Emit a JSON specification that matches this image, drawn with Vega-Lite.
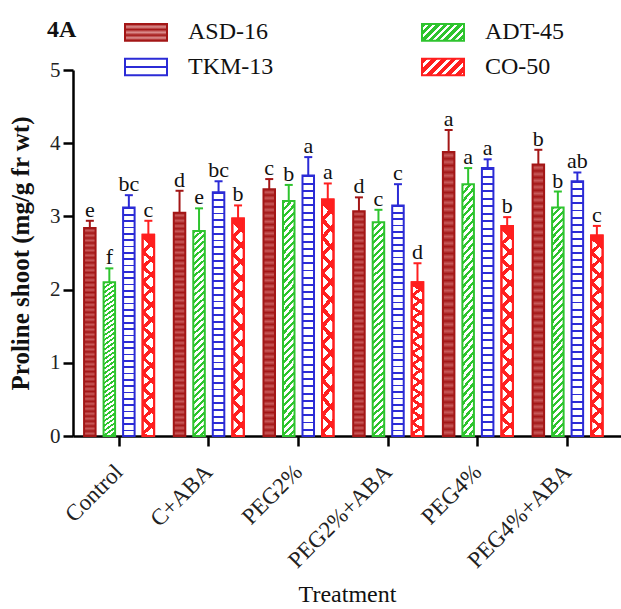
{
  "$schema": "https://vega.github.io/schema/vega-lite/v6.json",
  "width": 548,
  "height": 366,
  "autosize": "none",
  "padding": {"left": 73, "top": 70, "right": 0, "bottom": 173},
  "title": {"text": "4A", "anchor": "start", "frame": "group", "dx": -26, "offset": -32, "fontSize": 24, "fontWeight": "bold", "font": "Liberation Serif", "color": "#111"},
  "data": {"values": [
    {"t":"Control","v":"ASD-16","value":2.84,"upper":2.94,"sig":"e"},
    {"t":"Control","v":"ADT-45","value":2.10,"upper":2.29,"sig":"f"},
    {"t":"Control","v":"TKM-13","value":3.12,"upper":3.29,"sig":"bc"},
    {"t":"Control","v":"CO-50","value":2.75,"upper":2.94,"sig":"c"},
    {"t":"C+ABA","v":"ASD-16","value":3.05,"upper":3.35,"sig":"d"},
    {"t":"C+ABA","v":"ADT-45","value":2.80,"upper":3.11,"sig":"e"},
    {"t":"C+ABA","v":"TKM-13","value":3.33,"upper":3.48,"sig":"bc"},
    {"t":"C+ABA","v":"CO-50","value":2.97,"upper":3.15,"sig":"b"},
    {"t":"PEG2%","v":"ASD-16","value":3.37,"upper":3.51,"sig":"c"},
    {"t":"PEG2%","v":"ADT-45","value":3.21,"upper":3.43,"sig":"b"},
    {"t":"PEG2%","v":"TKM-13","value":3.56,"upper":3.81,"sig":"a"},
    {"t":"PEG2%","v":"CO-50","value":3.23,"upper":3.45,"sig":"a"},
    {"t":"PEG2%+ABA","v":"ASD-16","value":3.07,"upper":3.26,"sig":"d"},
    {"t":"PEG2%+ABA","v":"ADT-45","value":2.92,"upper":3.09,"sig":"c"},
    {"t":"PEG2%+ABA","v":"TKM-13","value":3.15,"upper":3.44,"sig":"c"},
    {"t":"PEG2%+ABA","v":"CO-50","value":2.10,"upper":2.36,"sig":"d"},
    {"t":"PEG4%","v":"ASD-16","value":3.88,"upper":4.18,"sig":"a"},
    {"t":"PEG4%","v":"ADT-45","value":3.44,"upper":3.66,"sig":"a"},
    {"t":"PEG4%","v":"TKM-13","value":3.66,"upper":3.78,"sig":"a"},
    {"t":"PEG4%","v":"CO-50","value":2.87,"upper":2.99,"sig":"b"},
    {"t":"PEG4%+ABA","v":"ASD-16","value":3.71,"upper":3.91,"sig":"b"},
    {"t":"PEG4%+ABA","v":"ADT-45","value":3.12,"upper":3.34,"sig":"b"},
    {"t":"PEG4%+ABA","v":"TKM-13","value":3.48,"upper":3.60,"sig":"ab"},
    {"t":"PEG4%+ABA","v":"CO-50","value":2.74,"upper":2.87,"sig":"c"}
  ]},
  "encoding": {
    "x": {"field": "t", "type": "nominal", "sort": null,
      "scale": {"domain": ["Control","C+ABA","PEG2%","PEG2%+ABA","PEG4%","PEG4%+ABA"], "paddingInner": 0.13, "paddingOuter": 0.1195, "align": 0.33},
      "axis": {"title": "Treatment", "titleFontSize": 24, "titleFontWeight": "normal", "labelFontSize": 23, "labelAngle": -45, "tickSize": 10, "labelPadding": 22, "titlePadding": 10, "labelAlign": "right", "labelBaseline": "middle"}},
    "xOffset": {"field": "v", "type": "nominal", "scale": {"domain": ["ASD-16","ADT-45","TKM-13","CO-50"], "paddingInner": 0.41, "paddingOuter": 0.205}},
    "y": {"field": "value", "type": "quantitative", "scale": {"domain": [0, 5], "nice": false},
      "axis": {"values": [0,1,2,3,4,5], "tickSize": 10, "labelPadding": 3, "title": "Proline shoot (mg/g fr wt)", "titleFontWeight": "bold", "titleFontSize": 25, "titlePadding": 16}}
  },
  "layer": [
    {
      "mark": {"type": "bar", "opacity": 0},
      "encoding": {
        "fill": {"field": "v", "type": "nominal",
          "scale": {"domain": ["ASD-16","TKM-13","ADT-45","CO-50"], "range": [
            {"expr": "{gradient:'linear',x1:0,y1:0,x2:0,y2:1,stops:[{offset:0,color:'#a31616'},{offset:0.17,color:'#dc9090'},{offset:0.33,color:'#a31616'},{offset:0.5,color:'#dc9090'},{offset:0.67,color:'#a31616'},{offset:0.83,color:'#dc9090'},{offset:1,color:'#a31616'}]}"},
            {"expr": "{gradient:'linear',x1:0,y1:0,x2:0,y2:1,stops:[{offset:0,color:'#ffffff'},{offset:0.42,color:'#ffffff'},{offset:0.42,color:'#2b2bd6'},{offset:0.58,color:'#2b2bd6'},{offset:0.58,color:'#ffffff'},{offset:1,color:'#ffffff'}]}"},
            {"expr": "{gradient:'linear',x1:0,y1:0,x2:1.21,y2:0.48,stops:[{offset:0,color:'#2ec42e'},{offset:0.075,color:'#2ec42e'},{offset:0.075,color:'#ffffff'},{offset:0.125,color:'#ffffff'},{offset:0.125,color:'#2ec42e'},{offset:0.2,color:'#2ec42e'},{offset:0.2,color:'#ffffff'},{offset:0.25,color:'#ffffff'},{offset:0.25,color:'#2ec42e'},{offset:0.325,color:'#2ec42e'},{offset:0.325,color:'#ffffff'},{offset:0.375,color:'#ffffff'},{offset:0.375,color:'#2ec42e'},{offset:0.45,color:'#2ec42e'},{offset:0.45,color:'#ffffff'},{offset:0.5,color:'#ffffff'},{offset:0.5,color:'#2ec42e'},{offset:0.575,color:'#2ec42e'},{offset:0.575,color:'#ffffff'},{offset:0.625,color:'#ffffff'},{offset:0.625,color:'#2ec42e'},{offset:0.7,color:'#2ec42e'},{offset:0.7,color:'#ffffff'},{offset:0.75,color:'#ffffff'},{offset:0.75,color:'#2ec42e'},{offset:0.825,color:'#2ec42e'},{offset:0.825,color:'#ffffff'},{offset:0.875,color:'#ffffff'},{offset:0.875,color:'#2ec42e'},{offset:0.95,color:'#2ec42e'},{offset:0.95,color:'#ffffff'},{offset:1,color:'#ffffff'}]}"},
            {"expr": "{gradient:'linear',x1:0,y1:0,x2:1.21,y2:0.48,stops:[{offset:0,color:'#ff1f1f'},{offset:0.1,color:'#ff1f1f'},{offset:0.1,color:'#ffffff'},{offset:0.167,color:'#ffffff'},{offset:0.167,color:'#ff1f1f'},{offset:0.267,color:'#ff1f1f'},{offset:0.267,color:'#ffffff'},{offset:0.333,color:'#ffffff'},{offset:0.333,color:'#ff1f1f'},{offset:0.433,color:'#ff1f1f'},{offset:0.433,color:'#ffffff'},{offset:0.5,color:'#ffffff'},{offset:0.5,color:'#ff1f1f'},{offset:0.6,color:'#ff1f1f'},{offset:0.6,color:'#ffffff'},{offset:0.667,color:'#ffffff'},{offset:0.667,color:'#ff1f1f'},{offset:0.767,color:'#ff1f1f'},{offset:0.767,color:'#ffffff'},{offset:0.833,color:'#ffffff'},{offset:0.833,color:'#ff1f1f'},{offset:0.933,color:'#ff1f1f'},{offset:0.933,color:'#ffffff'},{offset:1,color:'#ffffff'}]}"}
          ]},
          "legend": {"title": null, "orient": "none", "legendX": 51, "legendY": -60, "columns": 2, "columnPadding": 144, "rowPadding": -2, "symbolType": "M-1,-0.395H1V0.395H-1Z", "symbolSize": 1764, "symbolStrokeWidth": 2, "symbolOpacity": 1, "labelFont": "Liberation Serif", "labelFontSize": 24, "labelColor": "#111", "labelOffset": 20, "labelLimit": 200}},
        "stroke": {"field": "v", "type": "nominal", "scale": {"domain": ["ASD-16","TKM-13","ADT-45","CO-50"], "range": ["#a31616","#2b2bd6","#2ec42e","#ff1f1f"]},
          "legend": {"title": null, "orient": "none", "legendX": 51, "legendY": -60, "columns": 2, "columnPadding": 144, "rowPadding": -2, "symbolType": "M-1,-0.395H1V0.395H-1Z", "symbolSize": 1764, "symbolStrokeWidth": 2, "symbolOpacity": 1, "labelFont": "Liberation Serif", "labelFontSize": 24, "labelColor": "#111", "labelOffset": 20, "labelLimit": 200}}
      }
    },
    {
      "transform": [{"filter": "datum.v === 'ASD-16'"}],
      "mark": {"type": "bar", "strokeWidth": 2, "fill": {"gradient": "linear", "x1": 0, "y1": 0, "x2": 0, "y2": 1, "stops": [
        {"offset":0,"color":"#a31616"},{"offset":0.0119,"color":"#c85a5a"},{"offset":0.0238,"color":"#a31616"},{"offset":0.0357,"color":"#c85a5a"},{"offset":0.0476,"color":"#a31616"},{"offset":0.0595,"color":"#c85a5a"},{"offset":0.0714,"color":"#a31616"},{"offset":0.0833,"color":"#c85a5a"},{"offset":0.0952,"color":"#a31616"},{"offset":0.1071,"color":"#c85a5a"},{"offset":0.119,"color":"#a31616"},{"offset":0.131,"color":"#c85a5a"},{"offset":0.1429,"color":"#a31616"},{"offset":0.1548,"color":"#c85a5a"},{"offset":0.1667,"color":"#a31616"},{"offset":0.1786,"color":"#c85a5a"},{"offset":0.1905,"color":"#a31616"},{"offset":0.2024,"color":"#c85a5a"},{"offset":0.2143,"color":"#a31616"},{"offset":0.2262,"color":"#c85a5a"},{"offset":0.2381,"color":"#a31616"},{"offset":0.25,"color":"#c85a5a"},{"offset":0.2619,"color":"#a31616"},{"offset":0.2738,"color":"#c85a5a"},{"offset":0.2857,"color":"#a31616"},{"offset":0.2976,"color":"#c85a5a"},{"offset":0.3095,"color":"#a31616"},{"offset":0.3214,"color":"#c85a5a"},{"offset":0.3333,"color":"#a31616"},{"offset":0.3452,"color":"#c85a5a"},{"offset":0.3571,"color":"#a31616"},{"offset":0.369,"color":"#c85a5a"},{"offset":0.381,"color":"#a31616"},{"offset":0.3929,"color":"#c85a5a"},{"offset":0.4048,"color":"#a31616"},{"offset":0.4167,"color":"#c85a5a"},{"offset":0.4286,"color":"#a31616"},{"offset":0.4405,"color":"#c85a5a"},{"offset":0.4524,"color":"#a31616"},{"offset":0.4643,"color":"#c85a5a"},{"offset":0.4762,"color":"#a31616"},{"offset":0.4881,"color":"#c85a5a"},{"offset":0.5,"color":"#a31616"},{"offset":0.5119,"color":"#c85a5a"},{"offset":0.5238,"color":"#a31616"},{"offset":0.5357,"color":"#c85a5a"},{"offset":0.5476,"color":"#a31616"},{"offset":0.5595,"color":"#c85a5a"},{"offset":0.5714,"color":"#a31616"},{"offset":0.5833,"color":"#c85a5a"},{"offset":0.5952,"color":"#a31616"},{"offset":0.6071,"color":"#c85a5a"},{"offset":0.619,"color":"#a31616"},{"offset":0.631,"color":"#c85a5a"},{"offset":0.6429,"color":"#a31616"},{"offset":0.6548,"color":"#c85a5a"},{"offset":0.6667,"color":"#a31616"},{"offset":0.6786,"color":"#c85a5a"},{"offset":0.6905,"color":"#a31616"},{"offset":0.7024,"color":"#c85a5a"},{"offset":0.7143,"color":"#a31616"},{"offset":0.7262,"color":"#c85a5a"},{"offset":0.7381,"color":"#a31616"},{"offset":0.75,"color":"#c85a5a"},{"offset":0.7619,"color":"#a31616"},{"offset":0.7738,"color":"#c85a5a"},{"offset":0.7857,"color":"#a31616"},{"offset":0.7976,"color":"#c85a5a"},{"offset":0.8095,"color":"#a31616"},{"offset":0.8214,"color":"#c85a5a"},{"offset":0.8333,"color":"#a31616"},{"offset":0.8452,"color":"#c85a5a"},{"offset":0.8571,"color":"#a31616"},{"offset":0.869,"color":"#c85a5a"},{"offset":0.881,"color":"#a31616"},{"offset":0.8929,"color":"#c85a5a"},{"offset":0.9048,"color":"#a31616"},{"offset":0.9167,"color":"#c85a5a"},{"offset":0.9286,"color":"#a31616"},{"offset":0.9405,"color":"#c85a5a"},{"offset":0.9524,"color":"#a31616"},{"offset":0.9643,"color":"#c85a5a"},{"offset":0.9762,"color":"#a31616"},{"offset":0.9881,"color":"#c85a5a"},{"offset":1,"color":"#a31616"}
      ]}},
      "encoding": {"stroke": {"field": "v", "type": "nominal", "scale": {"domain": ["ASD-16","TKM-13","ADT-45","CO-50"], "range": ["#a31616","#2b2bd6","#2ec42e","#ff1f1f"]}, "legend": null}}
    },
    {
      "transform": [{"filter": "datum.v === 'ADT-45'"}],
      "mark": {"type": "bar", "strokeWidth": 2, "fill": {"gradient": "linear", "x1": 0, "y1": 0, "x2": 0.055, "y2": 1.05, "stops": [
        {"offset":0,"color":"#2ec42e"},{"offset":0.0132,"color":"#2ec42e"},{"offset":0.0132,"color":"#ffffff"},{"offset":0.0294,"color":"#ffffff"},
        {"offset":0.0294,"color":"#2ec42e"},{"offset":0.0426,"color":"#2ec42e"},{"offset":0.0426,"color":"#ffffff"},{"offset":0.0588,"color":"#ffffff"},
        {"offset":0.0588,"color":"#2ec42e"},{"offset":0.072,"color":"#2ec42e"},{"offset":0.072,"color":"#ffffff"},{"offset":0.0882,"color":"#ffffff"},
        {"offset":0.0882,"color":"#2ec42e"},{"offset":0.1014,"color":"#2ec42e"},{"offset":0.1014,"color":"#ffffff"},{"offset":0.1176,"color":"#ffffff"},
        {"offset":0.1176,"color":"#2ec42e"},{"offset":0.1308,"color":"#2ec42e"},{"offset":0.1308,"color":"#ffffff"},{"offset":0.1471,"color":"#ffffff"},
        {"offset":0.1471,"color":"#2ec42e"},{"offset":0.1603,"color":"#2ec42e"},{"offset":0.1603,"color":"#ffffff"},{"offset":0.1765,"color":"#ffffff"},
        {"offset":0.1765,"color":"#2ec42e"},{"offset":0.1897,"color":"#2ec42e"},{"offset":0.1897,"color":"#ffffff"},{"offset":0.2059,"color":"#ffffff"},
        {"offset":0.2059,"color":"#2ec42e"},{"offset":0.2191,"color":"#2ec42e"},{"offset":0.2191,"color":"#ffffff"},{"offset":0.2353,"color":"#ffffff"},
        {"offset":0.2353,"color":"#2ec42e"},{"offset":0.2485,"color":"#2ec42e"},{"offset":0.2485,"color":"#ffffff"},{"offset":0.2647,"color":"#ffffff"},
        {"offset":0.2647,"color":"#2ec42e"},{"offset":0.2779,"color":"#2ec42e"},{"offset":0.2779,"color":"#ffffff"},{"offset":0.2941,"color":"#ffffff"},
        {"offset":0.2941,"color":"#2ec42e"},{"offset":0.3073,"color":"#2ec42e"},{"offset":0.3073,"color":"#ffffff"},{"offset":0.3235,"color":"#ffffff"},
        {"offset":0.3235,"color":"#2ec42e"},{"offset":0.3367,"color":"#2ec42e"},{"offset":0.3367,"color":"#ffffff"},{"offset":0.3529,"color":"#ffffff"},
        {"offset":0.3529,"color":"#2ec42e"},{"offset":0.3661,"color":"#2ec42e"},{"offset":0.3661,"color":"#ffffff"},{"offset":0.3824,"color":"#ffffff"},
        {"offset":0.3824,"color":"#2ec42e"},{"offset":0.3956,"color":"#2ec42e"},{"offset":0.3956,"color":"#ffffff"},{"offset":0.4118,"color":"#ffffff"},
        {"offset":0.4118,"color":"#2ec42e"},{"offset":0.425,"color":"#2ec42e"},{"offset":0.425,"color":"#ffffff"},{"offset":0.4412,"color":"#ffffff"},
        {"offset":0.4412,"color":"#2ec42e"},{"offset":0.4544,"color":"#2ec42e"},{"offset":0.4544,"color":"#ffffff"},{"offset":0.4706,"color":"#ffffff"},
        {"offset":0.4706,"color":"#2ec42e"},{"offset":0.4838,"color":"#2ec42e"},{"offset":0.4838,"color":"#ffffff"},{"offset":0.5,"color":"#ffffff"},
        {"offset":0.5,"color":"#2ec42e"},{"offset":0.5132,"color":"#2ec42e"},{"offset":0.5132,"color":"#ffffff"},{"offset":0.5294,"color":"#ffffff"},
        {"offset":0.5294,"color":"#2ec42e"},{"offset":0.5426,"color":"#2ec42e"},{"offset":0.5426,"color":"#ffffff"},{"offset":0.5588,"color":"#ffffff"},
        {"offset":0.5588,"color":"#2ec42e"},{"offset":0.572,"color":"#2ec42e"},{"offset":0.572,"color":"#ffffff"},{"offset":0.5882,"color":"#ffffff"},
        {"offset":0.5882,"color":"#2ec42e"},{"offset":0.6014,"color":"#2ec42e"},{"offset":0.6014,"color":"#ffffff"},{"offset":0.6176,"color":"#ffffff"},
        {"offset":0.6176,"color":"#2ec42e"},{"offset":0.6308,"color":"#2ec42e"},{"offset":0.6308,"color":"#ffffff"},{"offset":0.6471,"color":"#ffffff"},
        {"offset":0.6471,"color":"#2ec42e"},{"offset":0.6603,"color":"#2ec42e"},{"offset":0.6603,"color":"#ffffff"},{"offset":0.6765,"color":"#ffffff"},
        {"offset":0.6765,"color":"#2ec42e"},{"offset":0.6897,"color":"#2ec42e"},{"offset":0.6897,"color":"#ffffff"},{"offset":0.7059,"color":"#ffffff"},
        {"offset":0.7059,"color":"#2ec42e"},{"offset":0.7191,"color":"#2ec42e"},{"offset":0.7191,"color":"#ffffff"},{"offset":0.7353,"color":"#ffffff"},
        {"offset":0.7353,"color":"#2ec42e"},{"offset":0.7485,"color":"#2ec42e"},{"offset":0.7485,"color":"#ffffff"},{"offset":0.7647,"color":"#ffffff"},
        {"offset":0.7647,"color":"#2ec42e"},{"offset":0.7779,"color":"#2ec42e"},{"offset":0.7779,"color":"#ffffff"},{"offset":0.7941,"color":"#ffffff"},
        {"offset":0.7941,"color":"#2ec42e"},{"offset":0.8073,"color":"#2ec42e"},{"offset":0.8073,"color":"#ffffff"},{"offset":0.8235,"color":"#ffffff"},
        {"offset":0.8235,"color":"#2ec42e"},{"offset":0.8367,"color":"#2ec42e"},{"offset":0.8367,"color":"#ffffff"},{"offset":0.8529,"color":"#ffffff"},
        {"offset":0.8529,"color":"#2ec42e"},{"offset":0.8661,"color":"#2ec42e"},{"offset":0.8661,"color":"#ffffff"},{"offset":0.8824,"color":"#ffffff"},
        {"offset":0.8824,"color":"#2ec42e"},{"offset":0.8956,"color":"#2ec42e"},{"offset":0.8956,"color":"#ffffff"},{"offset":0.9118,"color":"#ffffff"},
        {"offset":0.9118,"color":"#2ec42e"},{"offset":0.925,"color":"#2ec42e"},{"offset":0.925,"color":"#ffffff"},{"offset":0.9412,"color":"#ffffff"},
        {"offset":0.9412,"color":"#2ec42e"},{"offset":0.9544,"color":"#2ec42e"},{"offset":0.9544,"color":"#ffffff"},{"offset":0.9706,"color":"#ffffff"},
        {"offset":0.9706,"color":"#2ec42e"},{"offset":0.9838,"color":"#2ec42e"},{"offset":0.9838,"color":"#ffffff"},{"offset":1,"color":"#ffffff"}
      ]}},
      "encoding": {"stroke": {"field": "v", "type": "nominal", "scale": {"domain": ["ASD-16","TKM-13","ADT-45","CO-50"], "range": ["#a31616","#2b2bd6","#2ec42e","#ff1f1f"]}, "legend": null}}
    },
    {
      "transform": [{"filter": "datum.v === 'TKM-13'"}],
      "mark": {"type": "bar", "strokeWidth": 2, "fill": {"gradient": "linear", "x1": 0, "y1": 0, "x2": 0, "y2": 1, "stops": [
        {"offset":0,"color":"#2b2bd6"},{"offset":0.0075,"color":"#2b2bd6"},{"offset":0.0075,"color":"#ffffff"},{"offset":0.0278,"color":"#ffffff"},
        {"offset":0.0278,"color":"#2b2bd6"},{"offset":0.0353,"color":"#2b2bd6"},{"offset":0.0353,"color":"#ffffff"},{"offset":0.0556,"color":"#ffffff"},
        {"offset":0.0556,"color":"#2b2bd6"},{"offset":0.0631,"color":"#2b2bd6"},{"offset":0.0631,"color":"#ffffff"},{"offset":0.0833,"color":"#ffffff"},
        {"offset":0.0833,"color":"#2b2bd6"},{"offset":0.0908,"color":"#2b2bd6"},{"offset":0.0908,"color":"#ffffff"},{"offset":0.1111,"color":"#ffffff"},
        {"offset":0.1111,"color":"#2b2bd6"},{"offset":0.1186,"color":"#2b2bd6"},{"offset":0.1186,"color":"#ffffff"},{"offset":0.1389,"color":"#ffffff"},
        {"offset":0.1389,"color":"#2b2bd6"},{"offset":0.1464,"color":"#2b2bd6"},{"offset":0.1464,"color":"#ffffff"},{"offset":0.1667,"color":"#ffffff"},
        {"offset":0.1667,"color":"#2b2bd6"},{"offset":0.1742,"color":"#2b2bd6"},{"offset":0.1742,"color":"#ffffff"},{"offset":0.1944,"color":"#ffffff"},
        {"offset":0.1944,"color":"#2b2bd6"},{"offset":0.2019,"color":"#2b2bd6"},{"offset":0.2019,"color":"#ffffff"},{"offset":0.2222,"color":"#ffffff"},
        {"offset":0.2222,"color":"#2b2bd6"},{"offset":0.2297,"color":"#2b2bd6"},{"offset":0.2297,"color":"#ffffff"},{"offset":0.25,"color":"#ffffff"},
        {"offset":0.25,"color":"#2b2bd6"},{"offset":0.2575,"color":"#2b2bd6"},{"offset":0.2575,"color":"#ffffff"},{"offset":0.2778,"color":"#ffffff"},
        {"offset":0.2778,"color":"#2b2bd6"},{"offset":0.2853,"color":"#2b2bd6"},{"offset":0.2853,"color":"#ffffff"},{"offset":0.3056,"color":"#ffffff"},
        {"offset":0.3056,"color":"#2b2bd6"},{"offset":0.3131,"color":"#2b2bd6"},{"offset":0.3131,"color":"#ffffff"},{"offset":0.3333,"color":"#ffffff"},
        {"offset":0.3333,"color":"#2b2bd6"},{"offset":0.3408,"color":"#2b2bd6"},{"offset":0.3408,"color":"#ffffff"},{"offset":0.3611,"color":"#ffffff"},
        {"offset":0.3611,"color":"#2b2bd6"},{"offset":0.3686,"color":"#2b2bd6"},{"offset":0.3686,"color":"#ffffff"},{"offset":0.3889,"color":"#ffffff"},
        {"offset":0.3889,"color":"#2b2bd6"},{"offset":0.3964,"color":"#2b2bd6"},{"offset":0.3964,"color":"#ffffff"},{"offset":0.4167,"color":"#ffffff"},
        {"offset":0.4167,"color":"#2b2bd6"},{"offset":0.4242,"color":"#2b2bd6"},{"offset":0.4242,"color":"#ffffff"},{"offset":0.4444,"color":"#ffffff"},
        {"offset":0.4444,"color":"#2b2bd6"},{"offset":0.4519,"color":"#2b2bd6"},{"offset":0.4519,"color":"#ffffff"},{"offset":0.4722,"color":"#ffffff"},
        {"offset":0.4722,"color":"#2b2bd6"},{"offset":0.4797,"color":"#2b2bd6"},{"offset":0.4797,"color":"#ffffff"},{"offset":0.5,"color":"#ffffff"},
        {"offset":0.5,"color":"#2b2bd6"},{"offset":0.5075,"color":"#2b2bd6"},{"offset":0.5075,"color":"#ffffff"},{"offset":0.5278,"color":"#ffffff"},
        {"offset":0.5278,"color":"#2b2bd6"},{"offset":0.5353,"color":"#2b2bd6"},{"offset":0.5353,"color":"#ffffff"},{"offset":0.5556,"color":"#ffffff"},
        {"offset":0.5556,"color":"#2b2bd6"},{"offset":0.5631,"color":"#2b2bd6"},{"offset":0.5631,"color":"#ffffff"},{"offset":0.5833,"color":"#ffffff"},
        {"offset":0.5833,"color":"#2b2bd6"},{"offset":0.5908,"color":"#2b2bd6"},{"offset":0.5908,"color":"#ffffff"},{"offset":0.6111,"color":"#ffffff"},
        {"offset":0.6111,"color":"#2b2bd6"},{"offset":0.6186,"color":"#2b2bd6"},{"offset":0.6186,"color":"#ffffff"},{"offset":0.6389,"color":"#ffffff"},
        {"offset":0.6389,"color":"#2b2bd6"},{"offset":0.6464,"color":"#2b2bd6"},{"offset":0.6464,"color":"#ffffff"},{"offset":0.6667,"color":"#ffffff"},
        {"offset":0.6667,"color":"#2b2bd6"},{"offset":0.6742,"color":"#2b2bd6"},{"offset":0.6742,"color":"#ffffff"},{"offset":0.6944,"color":"#ffffff"},
        {"offset":0.6944,"color":"#2b2bd6"},{"offset":0.7019,"color":"#2b2bd6"},{"offset":0.7019,"color":"#ffffff"},{"offset":0.7222,"color":"#ffffff"},
        {"offset":0.7222,"color":"#2b2bd6"},{"offset":0.7297,"color":"#2b2bd6"},{"offset":0.7297,"color":"#ffffff"},{"offset":0.75,"color":"#ffffff"},
        {"offset":0.75,"color":"#2b2bd6"},{"offset":0.7575,"color":"#2b2bd6"},{"offset":0.7575,"color":"#ffffff"},{"offset":0.7778,"color":"#ffffff"},
        {"offset":0.7778,"color":"#2b2bd6"},{"offset":0.7853,"color":"#2b2bd6"},{"offset":0.7853,"color":"#ffffff"},{"offset":0.8056,"color":"#ffffff"},
        {"offset":0.8056,"color":"#2b2bd6"},{"offset":0.8131,"color":"#2b2bd6"},{"offset":0.8131,"color":"#ffffff"},{"offset":0.8333,"color":"#ffffff"},
        {"offset":0.8333,"color":"#2b2bd6"},{"offset":0.8408,"color":"#2b2bd6"},{"offset":0.8408,"color":"#ffffff"},{"offset":0.8611,"color":"#ffffff"},
        {"offset":0.8611,"color":"#2b2bd6"},{"offset":0.8686,"color":"#2b2bd6"},{"offset":0.8686,"color":"#ffffff"},{"offset":0.8889,"color":"#ffffff"},
        {"offset":0.8889,"color":"#2b2bd6"},{"offset":0.8964,"color":"#2b2bd6"},{"offset":0.8964,"color":"#ffffff"},{"offset":0.9167,"color":"#ffffff"},
        {"offset":0.9167,"color":"#2b2bd6"},{"offset":0.9242,"color":"#2b2bd6"},{"offset":0.9242,"color":"#ffffff"},{"offset":0.9444,"color":"#ffffff"},
        {"offset":0.9444,"color":"#2b2bd6"},{"offset":0.9519,"color":"#2b2bd6"},{"offset":0.9519,"color":"#ffffff"},{"offset":0.9722,"color":"#ffffff"},
        {"offset":0.9722,"color":"#2b2bd6"},{"offset":0.9797,"color":"#2b2bd6"},{"offset":0.9797,"color":"#ffffff"},{"offset":1,"color":"#ffffff"}
      ]}},
      "encoding": {"stroke": {"field": "v", "type": "nominal", "scale": {"domain": ["ASD-16","TKM-13","ADT-45","CO-50"], "range": ["#a31616","#2b2bd6","#2ec42e","#ff1f1f"]}, "legend": null}}
    },
    {
      "transform": [{"filter": "datum.v === 'CO-50'"}],
      "mark": {"type": "bar", "strokeWidth": 2, "fill": {"gradient": "linear", "x1": 0.055, "y1": 0, "x2": 0, "y2": 1.05, "stops": [
        {"offset":0,"color":"#ff1f1f"},{"offset":0.0214,"color":"#ff1f1f"},{"offset":0.0214,"color":"#ffffff"},{"offset":0.0714,"color":"#ffffff"},
        {"offset":0.0714,"color":"#ff1f1f"},{"offset":0.0928,"color":"#ff1f1f"},{"offset":0.0928,"color":"#ffffff"},{"offset":0.1429,"color":"#ffffff"},
        {"offset":0.1429,"color":"#ff1f1f"},{"offset":0.1643,"color":"#ff1f1f"},{"offset":0.1643,"color":"#ffffff"},{"offset":0.2143,"color":"#ffffff"},
        {"offset":0.2143,"color":"#ff1f1f"},{"offset":0.2357,"color":"#ff1f1f"},{"offset":0.2357,"color":"#ffffff"},{"offset":0.2857,"color":"#ffffff"},
        {"offset":0.2857,"color":"#ff1f1f"},{"offset":0.3071,"color":"#ff1f1f"},{"offset":0.3071,"color":"#ffffff"},{"offset":0.3571,"color":"#ffffff"},
        {"offset":0.3571,"color":"#ff1f1f"},{"offset":0.3785,"color":"#ff1f1f"},{"offset":0.3785,"color":"#ffffff"},{"offset":0.4286,"color":"#ffffff"},
        {"offset":0.4286,"color":"#ff1f1f"},{"offset":0.45,"color":"#ff1f1f"},{"offset":0.45,"color":"#ffffff"},{"offset":0.5,"color":"#ffffff"},
        {"offset":0.5,"color":"#ff1f1f"},{"offset":0.5214,"color":"#ff1f1f"},{"offset":0.5214,"color":"#ffffff"},{"offset":0.5714,"color":"#ffffff"},
        {"offset":0.5714,"color":"#ff1f1f"},{"offset":0.5928,"color":"#ff1f1f"},{"offset":0.5928,"color":"#ffffff"},{"offset":0.6429,"color":"#ffffff"},
        {"offset":0.6429,"color":"#ff1f1f"},{"offset":0.6643,"color":"#ff1f1f"},{"offset":0.6643,"color":"#ffffff"},{"offset":0.7143,"color":"#ffffff"},
        {"offset":0.7143,"color":"#ff1f1f"},{"offset":0.7357,"color":"#ff1f1f"},{"offset":0.7357,"color":"#ffffff"},{"offset":0.7857,"color":"#ffffff"},
        {"offset":0.7857,"color":"#ff1f1f"},{"offset":0.8071,"color":"#ff1f1f"},{"offset":0.8071,"color":"#ffffff"},{"offset":0.8571,"color":"#ffffff"},
        {"offset":0.8571,"color":"#ff1f1f"},{"offset":0.8785,"color":"#ff1f1f"},{"offset":0.8785,"color":"#ffffff"},{"offset":0.9286,"color":"#ffffff"},
        {"offset":0.9286,"color":"#ff1f1f"},{"offset":0.95,"color":"#ff1f1f"},{"offset":0.95,"color":"#ffffff"},{"offset":1,"color":"#ffffff"}
      ]}},
      "encoding": {"stroke": {"field": "v", "type": "nominal", "scale": {"domain": ["ASD-16","TKM-13","ADT-45","CO-50"], "range": ["#a31616","#2b2bd6","#2ec42e","#ff1f1f"]}, "legend": null}}
    },
    {
      "transform": [{"filter": "datum.v === 'CO-50'"}],
      "mark": {"type": "bar", "strokeWidth": 2, "stroke": "#ff1f1f", "fill": {"gradient": "linear", "x1": 0, "y1": 0, "x2": 0.055, "y2": 1.05, "stops": [
        {"offset":0,"color":"#ff1f1f"},{"offset":0.0214,"color":"#ff1f1f"},{"offset":0.0214,"color":"rgba(255,255,255,0)"},{"offset":0.0714,"color":"rgba(255,255,255,0)"},
        {"offset":0.0714,"color":"#ff1f1f"},{"offset":0.0928,"color":"#ff1f1f"},{"offset":0.0928,"color":"rgba(255,255,255,0)"},{"offset":0.1429,"color":"rgba(255,255,255,0)"},
        {"offset":0.1429,"color":"#ff1f1f"},{"offset":0.1643,"color":"#ff1f1f"},{"offset":0.1643,"color":"rgba(255,255,255,0)"},{"offset":0.2143,"color":"rgba(255,255,255,0)"},
        {"offset":0.2143,"color":"#ff1f1f"},{"offset":0.2357,"color":"#ff1f1f"},{"offset":0.2357,"color":"rgba(255,255,255,0)"},{"offset":0.2857,"color":"rgba(255,255,255,0)"},
        {"offset":0.2857,"color":"#ff1f1f"},{"offset":0.3071,"color":"#ff1f1f"},{"offset":0.3071,"color":"rgba(255,255,255,0)"},{"offset":0.3571,"color":"rgba(255,255,255,0)"},
        {"offset":0.3571,"color":"#ff1f1f"},{"offset":0.3785,"color":"#ff1f1f"},{"offset":0.3785,"color":"rgba(255,255,255,0)"},{"offset":0.4286,"color":"rgba(255,255,255,0)"},
        {"offset":0.4286,"color":"#ff1f1f"},{"offset":0.45,"color":"#ff1f1f"},{"offset":0.45,"color":"rgba(255,255,255,0)"},{"offset":0.5,"color":"rgba(255,255,255,0)"},
        {"offset":0.5,"color":"#ff1f1f"},{"offset":0.5214,"color":"#ff1f1f"},{"offset":0.5214,"color":"rgba(255,255,255,0)"},{"offset":0.5714,"color":"rgba(255,255,255,0)"},
        {"offset":0.5714,"color":"#ff1f1f"},{"offset":0.5928,"color":"#ff1f1f"},{"offset":0.5928,"color":"rgba(255,255,255,0)"},{"offset":0.6429,"color":"rgba(255,255,255,0)"},
        {"offset":0.6429,"color":"#ff1f1f"},{"offset":0.6643,"color":"#ff1f1f"},{"offset":0.6643,"color":"rgba(255,255,255,0)"},{"offset":0.7143,"color":"rgba(255,255,255,0)"},
        {"offset":0.7143,"color":"#ff1f1f"},{"offset":0.7357,"color":"#ff1f1f"},{"offset":0.7357,"color":"rgba(255,255,255,0)"},{"offset":0.7857,"color":"rgba(255,255,255,0)"},
        {"offset":0.7857,"color":"#ff1f1f"},{"offset":0.8071,"color":"#ff1f1f"},{"offset":0.8071,"color":"rgba(255,255,255,0)"},{"offset":0.8571,"color":"rgba(255,255,255,0)"},
        {"offset":0.8571,"color":"#ff1f1f"},{"offset":0.8785,"color":"#ff1f1f"},{"offset":0.8785,"color":"rgba(255,255,255,0)"},{"offset":0.9286,"color":"rgba(255,255,255,0)"},
        {"offset":0.9286,"color":"#ff1f1f"},{"offset":0.95,"color":"#ff1f1f"},{"offset":0.95,"color":"rgba(255,255,255,0)"},{"offset":1,"color":"rgba(255,255,255,0)"}
      ]}},
      "encoding": {}
    },
    {
      "mark": {"type": "rule", "strokeWidth": 2},
      "encoding": {"y2": {"field": "upper"}, "stroke": {"field": "v", "type": "nominal", "scale": {"domain": ["ASD-16","TKM-13","ADT-45","CO-50"], "range": ["#a31616","#2b2bd6","#2ec42e","#ff1f1f"]}, "legend": null}}
    },
    {
      "mark": {"type": "point", "shape": "M-1,0L1,0", "size": 64, "filled": false, "strokeWidth": 2, "opacity": 1},
      "encoding": {
        "y": {"field": "upper", "type": "quantitative", "axis": {"values": [0,1,2,3,4,5], "tickSize": 10, "labelPadding": 3, "title": "Proline shoot (mg/g fr wt)", "titleFontWeight": "bold", "titleFontSize": 25, "titlePadding": 16}},
        "stroke": {"field": "v", "type": "nominal", "scale": {"domain": ["ASD-16","TKM-13","ADT-45","CO-50"], "range": ["#a31616","#2b2bd6","#2ec42e","#ff1f1f"]}, "legend": null}}
    },
    {
      "mark": {"type": "text", "font": "Liberation Serif", "fontSize": 22, "baseline": "alphabetic", "dy": -4, "color": "#111"},
      "encoding": {
        "y": {"field": "upper", "type": "quantitative", "axis": {"values": [0,1,2,3,4,5], "tickSize": 10, "labelPadding": 3, "title": "Proline shoot (mg/g fr wt)", "titleFontWeight": "bold", "titleFontSize": 25, "titlePadding": 16}},
        "text": {"field": "sig"}}
    }
  ],
  "config": {
    "view": {"stroke": null},
    "font": "Liberation Serif",
    "axis": {"domainColor": "#000", "domainWidth": 2.5, "tickColor": "#000", "tickWidth": 2.5, "labelFont": "Liberation Serif", "labelFontSize": 21, "labelColor": "#222", "titleFont": "Liberation Serif", "titleColor": "#111", "grid": false}
  }
}
